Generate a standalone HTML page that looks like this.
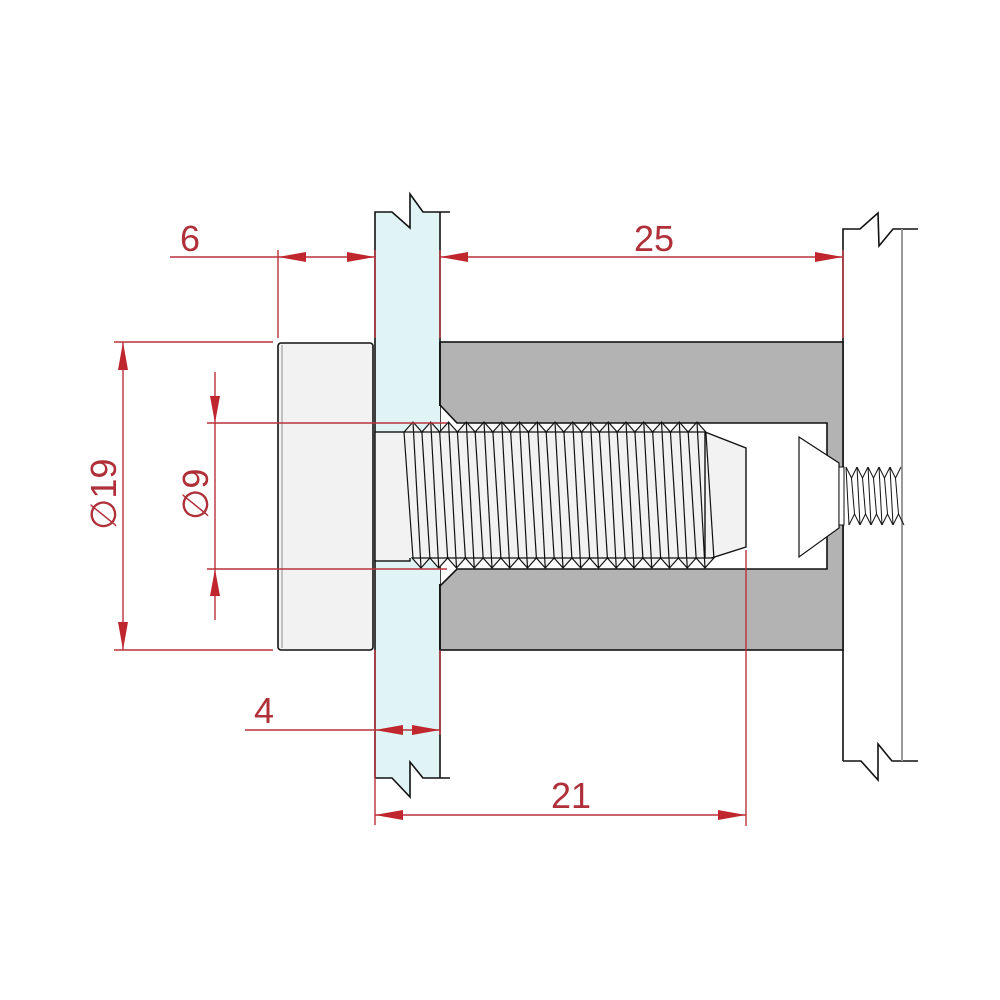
<!DOCTYPE html>
<html><head><meta charset="utf-8"><style>
html,body{margin:0;padding:0;background:#fff;}
svg{display:block;}
text{font-family:"Liberation Sans",sans-serif;fill:#b0303a;font-size:36px;}
</style></head><body>
<svg width="1000" height="1000" viewBox="0 0 1000 1000" xmlns="http://www.w3.org/2000/svg">
<defs>
<g id="tooth" stroke="#111" stroke-width="1.2" fill="#f2f2f2" stroke-linejoin="miter">
  <polygon points="-8.9,432 0,422 8.9,432"/>
  <polygon points="-0.9,558 8,568 16.9,558"/>
  <line x1="0" y1="422" x2="8" y2="568"/>
  <line x1="8.9" y1="432" x2="16.9" y2="558"/>
</g>
<g id="stooth" stroke="#111" stroke-width="1" fill="none">
  <polyline points="0,467 5.5,478 11,467"/>
  <polyline points="3,525 8.5,514 14,525"/>
  <line x1="0" y1="467" x2="3" y2="525"/>
  <line x1="5.5" y1="478" x2="8.5" y2="514"/>
</g>
</defs>

<!-- wall right -->
<path d="M843,761 L843,229 L860,229 L878,213 L879,246 L893,229 L918,229" fill="none" stroke="#111" stroke-width="1.6"/>
<path d="M843,761 L861,761 L878,780 L878,744 L892,761 L918,761" fill="none" stroke="#111" stroke-width="1.6"/>
<line x1="902" y1="229" x2="902" y2="761" stroke="#999" stroke-width="2"/>

<!-- glass -->
<path d="M375,212 L392,212 L410,228 L410,194 L423,212 L440,212 L440,778 L423,778 L410,762 L410,797 L392,778 L375,778 Z" fill="#e0f4f5" stroke="none"/>
<path d="M375,778 L375,212 L392,212 L410,228 L410,194 L423,212 L450,212" fill="none" stroke="#111" stroke-width="1.6"/>
<line x1="440" y1="212" x2="440" y2="778" stroke="#111" stroke-width="1.6"/>
<path d="M375,778 L392,778 L410,797 L410,762 L423,778 L450,778" fill="none" stroke="#111" stroke-width="1.6"/>

<!-- barrel -->
<rect x="440" y="342" width="403" height="308" fill="#b3b3b3" stroke="#111" stroke-width="1.6"/>
<path d="M440,405 L457,423 L827,423 L827,569 L457,569 L440,586 Z" fill="#fff" stroke="#111" stroke-width="1.6"/>
<rect x="437" y="406" width="3" height="178" fill="#e0f4f5"/>
<line x1="440" y1="342" x2="440" y2="406" stroke="#111" stroke-width="1.6"/>
<line x1="440" y1="584" x2="440" y2="650" stroke="#111" stroke-width="1.6"/>

<!-- head -->
<rect x="278" y="343" width="95" height="307" rx="3" fill="#f2f2f2" stroke="#111" stroke-width="1.6"/>
<line x1="282" y1="345" x2="282" y2="648" stroke="#777" stroke-width="0.8"/>

<!-- bolt -->
<rect x="375" y="432" width="35" height="129" fill="#f2f2f2" stroke="#111" stroke-width="1.4"/>
<rect x="404" y="432" width="303" height="126" fill="#f2f2f2"/>
<polygon points="705,432 746,448 746,547 705,560" fill="#f2f2f2" stroke="#111" stroke-width="1.4"/>
<line x1="404" y1="432" x2="413" y2="558" stroke="#111" stroke-width="1.2"/>
<use href="#tooth" x="413"/><use href="#tooth" x="430.75"/><use href="#tooth" x="448.5"/><use href="#tooth" x="466.25"/><use href="#tooth" x="484"/><use href="#tooth" x="501.75"/><use href="#tooth" x="519.5"/><use href="#tooth" x="537.25"/><use href="#tooth" x="555"/><use href="#tooth" x="572.75"/><use href="#tooth" x="590.5"/><use href="#tooth" x="608.25"/><use href="#tooth" x="626"/><use href="#tooth" x="643.75"/><use href="#tooth" x="661.5"/><use href="#tooth" x="679.25"/><use href="#tooth" x="697"/>

<!-- small screw -->
<polygon points="799,437 839,463 839,528 799,557" fill="#fff" stroke="#111" stroke-width="1.2"/>
<rect x="839" y="467" width="5" height="58" fill="#fff" stroke="#111" stroke-width="1"/>
<use href="#stooth" x="846"/><use href="#stooth" x="857"/><use href="#stooth" x="868"/><use href="#stooth" x="879"/><use href="#stooth" x="890"/>

<!-- dimensions -->
<g stroke="#b8323b" stroke-width="1.4" fill="none">
  <line x1="170" y1="257" x2="375" y2="257"/>
  <line x1="278" y1="250" x2="278" y2="338"/>
  <line x1="375" y1="250" x2="375" y2="338"/>
  <line x1="440" y1="250" x2="440" y2="338"/>
  <line x1="440" y1="257" x2="843" y2="257"/>
  <line x1="843" y1="250" x2="843" y2="338"/>
  <line x1="114" y1="342" x2="273" y2="342"/>
  <line x1="114" y1="650" x2="273" y2="650"/>
  <line x1="123" y1="342" x2="123" y2="650"/>
  <line x1="207" y1="423" x2="447" y2="423"/>
  <line x1="207" y1="569" x2="447" y2="569"/>
  <line x1="215" y1="372" x2="215" y2="620"/>
  <line x1="375" y1="650" x2="375" y2="825"/>
  <line x1="440" y1="650" x2="440" y2="735"/>
  <line x1="245" y1="730" x2="440" y2="730"/>
  <line x1="375" y1="815" x2="746" y2="815"/>
  <line x1="746" y1="550" x2="746" y2="826"/>
</g>
<g fill="#c0262d">
  <polygon points="278,257 306,252 306,262"/>
  <polygon points="375,257 347,252 347,262"/>
  <polygon points="440,257 468,252 468,262"/>
  <polygon points="843,257 815,252 815,262"/>
  <polygon points="123,342 118,370 128,370"/>
  <polygon points="123,650 118,622 128,622"/>
  <polygon points="215,423 210,396 220,396"/>
  <polygon points="215,569 210,596 220,596"/>
  <polygon points="375,730 403,725 403,735"/>
  <polygon points="440,730 412,725 412,735"/>
  <polygon points="375,815 403,810 403,820"/>
  <polygon points="746,815 718,810 718,820"/>
</g>
<text x="180" y="251">6</text>
<text x="634" y="251">25</text>
<text x="254" y="723">4</text>
<text x="551" y="808">21</text>
<text transform="translate(116,530) rotate(-90)">∅19</text>
<text transform="translate(208,520) rotate(-90)">∅9</text>
</svg>
</body></html>
